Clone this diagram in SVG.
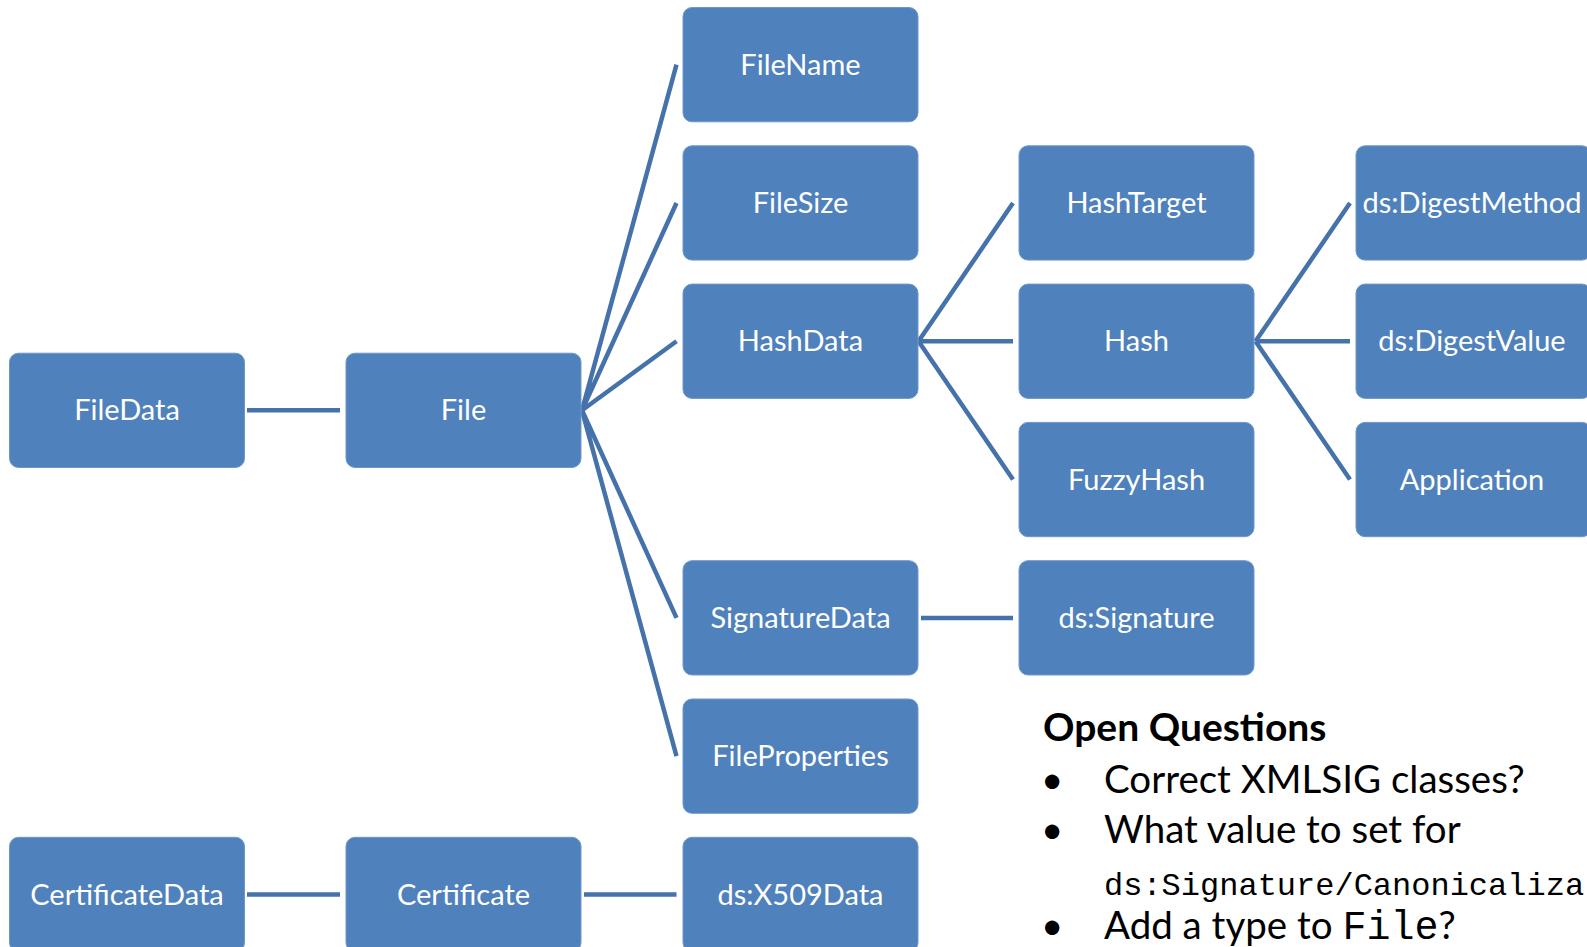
<svg xmlns="http://www.w3.org/2000/svg" width="1587" height="947" viewBox="0 0 1587 947">
<style>
.box{fill:#4F81BD;stroke:#6E97C9;stroke-width:1}
.lbl{fill:#FFFFFF;font-family:Lato,"Liberation Sans",sans-serif;font-size:29px;text-anchor:middle}
.con{stroke:#4672AC;stroke-width:4.5;fill:none;stroke-linecap:butt}
.hd{font-family:Lato,"Liberation Sans",sans-serif;font-weight:bold;font-size:39px;fill:#000}
.bt{font-family:Lato,"Liberation Sans",sans-serif;font-size:38.5px;fill:#000}
.mono{font-family:"Liberation Mono","Courier New",monospace}
</style>
<rect width="1587" height="947" fill="#FFFFFF"/>
<g id="connectors">
<path class="con" d="M247 410.3H340"/>
<path class="con" d="M582 410.3L676.5 64.7M582 410.3L676.5 203M582 410.3L676.5 341.3M582 410.3L676.5 617.9M582 410.3L676.5 756.2"/>
<path class="con" d="M918.5 341.3L1013 203M918.5 341.3L1013 341.3M918.5 341.3L1013 479.6"/>
<path class="con" d="M1255.5 341.3L1350 203M1255.5 341.3L1350 341.3M1255.5 341.3L1350 479.6"/>
<path class="con" d="M921 617.9H1013"/>
<path class="con" d="M247 894.5H340"/>
<path class="con" d="M584 894.5H676.5"/>
</g>
<g id="FileData"><rect class="box" x="9.5" y="353.2" width="235" height="114.3" rx="9"/><text class="lbl" x="127" y="420.3">FileData</text></g>
<g id="File"><rect class="box" x="346" y="353.2" width="235" height="114.3" rx="9"/><text class="lbl" x="463.5" y="420.3">File</text></g>
<g id="FileName"><rect class="box" x="683" y="7.5" width="235" height="114.3" rx="9"/><text class="lbl" x="800.5" y="74.7">FileName</text></g>
<g id="FileSize"><rect class="box" x="683" y="145.8" width="235" height="114.3" rx="9"/><text class="lbl" x="800.5" y="213">FileSize</text></g>
<g id="HashData"><rect class="box" x="683" y="284.1" width="235" height="114.3" rx="9"/><text class="lbl" x="800.5" y="351.3">HashData</text></g>
<g id="SignatureData"><rect class="box" x="683" y="560.7" width="235" height="114.3" rx="9"/><text class="lbl" x="800.5" y="627.9">SignatureData</text></g>
<g id="FileProperties"><rect class="box" x="683" y="699" width="235" height="114.3" rx="9"/><text class="lbl" x="800.5" y="766.2">FileProperties</text></g>
<g id="HashTarget"><rect class="box" x="1019" y="145.8" width="235" height="114.3" rx="9"/><text class="lbl" x="1136.5" y="213">HashTarget</text></g>
<g id="Hash"><rect class="box" x="1019" y="284.1" width="235" height="114.3" rx="9"/><text class="lbl" x="1136.5" y="351.3">Hash</text></g>
<g id="FuzzyHash"><rect class="box" x="1019" y="422.4" width="235" height="114.3" rx="9"/><text class="lbl" x="1136.5" y="489.6">FuzzyHash</text></g>
<g id="dsSignature"><rect class="box" x="1019" y="560.7" width="235" height="114.3" rx="9"/><text class="lbl" x="1136.5" y="627.9">ds:Signature</text></g>
<g id="dsDigestMethod"><rect class="box" x="1356" y="145.8" width="235" height="114.3" rx="9"/><text class="lbl" x="1472" y="213">ds:DigestMethod</text></g>
<g id="dsDigestValue"><rect class="box" x="1356" y="284.1" width="235" height="114.3" rx="9"/><text class="lbl" x="1472" y="351.3">ds:DigestValue</text></g>
<g id="Application"><rect class="box" x="1356" y="422.4" width="235" height="114.3" rx="9"/><text class="lbl" x="1472" y="489.6">Application</text></g>
<g id="CertificateData"><rect class="box" x="9.5" y="837.3" width="235" height="114.3" rx="9"/><text class="lbl" x="127" y="904.5">CertificateData</text></g>
<g id="Certificate"><rect class="box" x="346" y="837.3" width="235" height="114.3" rx="9"/><text class="lbl" x="463.5" y="904.5">Certificate</text></g>
<g id="dsX509Data"><rect class="box" x="683" y="837.3" width="235" height="114.3" rx="9"/><text class="lbl" x="800.5" y="904.5">ds:X509Data</text></g>
<g id="openQuestions">
<text class="hd" x="1043" y="741">Open Questions</text>
<text class="bt" x="1041" y="793">•</text>
<text class="bt" x="1104" y="793">Correct XMLSIG classes?</text>
<text class="bt" x="1041" y="843">•</text>
<text class="bt" x="1104" y="843">What value to set for</text>
<text class="mono" x="1104" y="895" font-size="32">ds:Signature/Canonicaliza</text>
<text class="bt" x="1041" y="939">•</text>
<text class="bt" x="1104" y="939">Add a type to <tspan class="mono" font-size="40">File</tspan>?</text>
</g>
</svg>
